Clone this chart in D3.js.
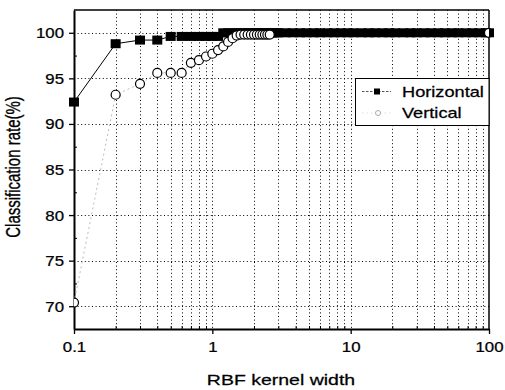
<!DOCTYPE html>
<html>
<head>
<meta charset="utf-8">
<script src="https://cdn.jsdelivr.net/npm/d3@7"></script>
<style>
  html, body { margin: 0; padding: 0; background: #fff; }
  svg { display: block; font-family: "Liberation Sans", Arial, sans-serif; }
  text { stroke: #000; stroke-width: 0.25px; }
</style>
</head>
<body>
<svg id="chart" width="505" height="390"></svg>
<script>
// Kernel widths and classification rates
const horizX = [0.1, 0.2, 0.3, 0.4, 0.5, 0.6, 0.7, 0.8, 0.9, 1.0,
                1.1, 1.2, 1.3, 1.4, 1.5, 1.6, 1.7, 1.8, 1.9, 2.0,
                2.1, 2.2, 2.3, 2.4, 2.5, 2.6, 2.7, 2.8, 2.9, 3.0,
                3.4, 3.8, 4.3, 4.8, 5.4, 6, 6.8, 7.6, 8.5, 9.5,
                10.5, 12, 13.5, 15, 17, 19, 21, 24, 27, 30,
                34, 38, 43, 48, 54, 60, 68, 76, 85, 95, 100];
const horizY = [92.4, 98.8, 99.2, 99.2, 99.6, 99.6, 99.6, 99.6, 99.6, 99.6,
                99.6, 100, 100, 100, 100, 100, 100, 100, 100, 100,
                100, 100, 100, 100, 100, 100, 100, 100, 100, 100,
                100, 100, 100, 100, 100, 100, 100, 100, 100, 100,
                100, 100, 100, 100, 100, 100, 100, 100, 100, 100,
                100, 100, 100, 100, 100, 100, 100, 100, 100, 100, 100];

const vertX = [0.1, 0.2, 0.3, 0.4, 0.5, 0.6, 0.7, 0.8, 0.9, 1.0,
               1.1, 1.2, 1.3, 1.4, 1.5, 1.6, 1.7, 1.8, 1.9, 2.0,
               2.1, 2.2, 2.3, 2.4, 2.5, 2.6, 100];
const vertY = [70.4, 93.2, 94.4, 95.6, 95.6, 95.6, 96.7, 97.0, 97.4, 97.7,
               98.1, 98.5, 99.0, 99.4, 99.7, 99.8, 99.8, 99.8, 99.8, 99.8,
               99.8, 99.8, 99.8, 99.8, 99.8, 99.8, 100];

const xMajorTicks = [0.1, 1, 10, 100];
const xMinorTicks = [0.2, 0.3, 0.4, 0.5, 0.6, 0.7, 0.8, 0.9,
                     2, 3, 4, 5, 6, 7, 8, 9,
                     20, 30, 40, 50, 60, 70, 80, 90];
const yMajorTicks = [70, 75, 80, 85, 90, 95, 100];
const yMinorTicks = [72.5, 77.5, 82.5, 87.5, 92.5, 97.5];

const seriesNames = ["Horizontal", "Vertical"];
const xTitle = "RBF kernel width";
const yTitle = "Classification rate(%)";

// Plot frame
const plotL = 74, plotR = 489, plotT = 10, plotB = 329;
const svg = d3.select("#chart");

const x = d3.scaleLog().domain([0.1, 100]).range([plotL, plotR]);
const y = d3.scaleLinear().domain([67.5, 102.5]).range([plotB, plotT]);

svg.append("defs").append("clipPath").attr("id", "plotClip")
  .append("rect").attr("x", plotL).attr("y", plotT)
  .attr("width", plotR - plotL).attr("height", plotB - plotT);

// Dotted grid
const grid = svg.append("g").attr("stroke", "#000").attr("stroke-width", 1)
  .attr("stroke-dasharray", "1,2.6");
grid.selectAll("line.v").data(xMinorTicks.concat([1, 10])).join("line")
  .attr("class", "v")
  .attr("x1", d => Math.round(x(d)) + 0.5).attr("x2", d => Math.round(x(d)) + 0.5)
  .attr("y1", plotT).attr("y2", plotB);
grid.selectAll("line.h").data(yMajorTicks).join("line")
  .attr("class", "h")
  .attr("x1", plotL).attr("x2", plotR)
  .attr("y1", d => Math.round(y(d)) + 0.5).attr("y2", d => Math.round(y(d)) + 0.5);

// Axes
const xAxis = svg.append("g").attr("transform", `translate(0,${plotB})`)
  .call(d3.axisBottom(x).tickValues(xMajorTicks).tickSize(5).tickSizeOuter(0)
        .tickFormat(d3.format("")));
const xMinor = svg.append("g").attr("transform", `translate(0,${plotB})`)
  .call(d3.axisTop(x).tickValues(xMinorTicks).tickSize(3).tickSizeOuter(0).tickFormat(""));
xMinor.select(".domain").remove();

const yAxis = svg.append("g").attr("transform", `translate(${plotL},0)`)
  .call(d3.axisLeft(y).tickValues(yMajorTicks).tickSize(5).tickSizeOuter(0));
const yMinor = svg.append("g").attr("transform", `translate(${plotL},0)`)
  .call(d3.axisRight(y).tickValues(yMinorTicks).tickSize(3).tickSizeOuter(0).tickFormat(""));
yMinor.select(".domain").remove();

[xAxis, yAxis].forEach(g => {
  g.select(".domain").attr("stroke-width", 2);
  g.selectAll(".tick line").attr("stroke-width", 1.3);
});
[xMinor, yMinor].forEach(g => g.selectAll(".tick line").attr("stroke-width", 1));

xAxis.selectAll(".tick text")
  .attr("font-size", 14).attr("font-family", "Liberation Sans, Arial, sans-serif")
  .attr("fill", "#000").attr("y", 0).attr("dy", 0)
  .attr("transform", "translate(0,23) scale(1.2,1)");
yAxis.selectAll(".tick text")
  .attr("font-size", 14).attr("font-family", "Liberation Sans, Arial, sans-serif")
  .attr("fill", "#000").attr("x", 0).attr("dy", 0)
  .attr("transform", "translate(-10,5) scale(1.2,1)");

// Top and right borders
svg.append("line").attr("x1", plotL).attr("x2", plotR).attr("y1", plotT).attr("y2", plotT)
  .attr("stroke", "#000").attr("stroke-width", 1.5);
svg.append("line").attr("x1", plotR).attr("x2", plotR).attr("y1", plotT).attr("y2", plotB)
  .attr("stroke", "#000").attr("stroke-width", 1.5);

// Series
const horiz = horizX.map((v, i) => [v, horizY[i]]);
const vert = vertX.map((v, i) => [v, vertY[i]]);
const line = d3.line().x(d => x(d[0])).y(d => y(d[1]));

svg.append("path").datum(vert).attr("d", line).attr("fill", "none")
  .attr("stroke", "#bbb").attr("stroke-width", 1).attr("stroke-dasharray", "2,3")
  .attr("clip-path", "url(#plotClip)");
svg.append("path").datum(horiz).attr("d", line).attr("fill", "none")
  .attr("stroke", "#000").attr("stroke-width", 1);

const sqW = 10, sqH = 9;
svg.append("g").selectAll("rect").data(horiz).join("rect")
  .attr("x", d => x(d[0]) - sqW / 2).attr("y", d => y(d[1]) - sqH / 2)
  .attr("width", sqW).attr("height", sqH).attr("fill", "#000");

svg.append("g").attr("clip-path", "url(#plotClip)")
  .selectAll("circle").data(vert).join("circle")
  .attr("cx", d => x(d[0])).attr("cy", d => y(d[1])).attr("r", 4.5)
  .attr("fill", "#fff").attr("stroke", "#000").attr("stroke-width", 1.2);

// Legend
const lg = svg.append("g");
lg.append("rect").attr("x", 355.5).attr("y", 78.5).attr("width", plotR - 355.5).attr("height", 47)
  .attr("fill", "#fff").attr("stroke", "#000").attr("stroke-width", 1);
lg.append("line").attr("x1", 362).attr("x2", 391).attr("y1", 91.5).attr("y2", 91.5)
  .attr("stroke", "#555").attr("stroke-width", 1).attr("stroke-dasharray", "2.5,1.5");
lg.append("rect").attr("x", 374).attr("y", 88.5).attr("width", 6).attr("height", 6).attr("fill", "#000");
lg.append("line").attr("x1", 362).attr("x2", 391).attr("y1", 113).attr("y2", 113)
  .attr("stroke", "#ddd").attr("stroke-width", 1).attr("stroke-dasharray", "1.5,3");
lg.append("circle").attr("cx", 378).attr("cy", 113).attr("r", 2.5)
  .attr("fill", "#fff").attr("stroke", "#aaa").attr("stroke-width", 1);
lg.selectAll("text").data(seriesNames).join("text")
  .attr("transform", (d, i) => `translate(402,${96.5 + i * 21}) scale(1.3,1)`)
  .attr("font-size", 14).attr("fill", "#000").text(d => d);

// Axis titles
svg.append("text").attr("transform", "translate(281,385) scale(1.3,1)")
  .attr("text-anchor", "middle").attr("font-size", 15).attr("fill", "#000").text(xTitle);
svg.append("text").attr("transform", "translate(20,167) scale(1.3,1) rotate(-90)")
  .attr("text-anchor", "middle").attr("font-size", 15).attr("fill", "#000").text(yTitle);
</script>
</body>
</html>
